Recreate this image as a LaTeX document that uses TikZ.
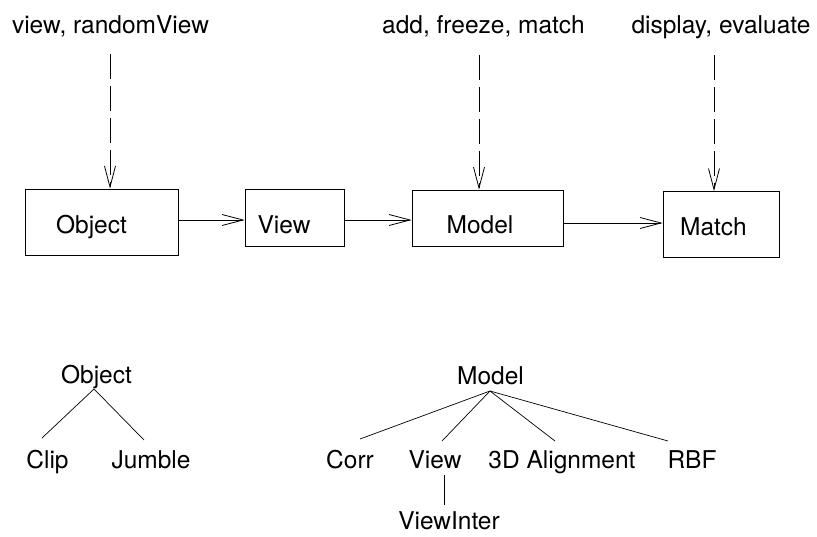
\documentclass[tikz,border=0pt]{standalone}
\usepackage{fontspec}
\setmainfont{TeX Gyre Heros}
\usetikzlibrary{arrows.meta}
\tikzset{
  lbl/.style={inner sep=0pt, anchor=base, font=\fontsize{24.5}{29}\selectfont},
  classbox/.style={draw, line width=0.8pt, inner sep=0pt, minimum width=#1},
  flow/.style={line width=0.8pt, -{Straight Barb[length=21pt,width=11pt,line width=0.8pt]}},
  call/.style={flow, dash pattern=on 25pt off 7pt},
  branch/.style={line width=0.7pt}
}
\begin{document}
\begin{tikzpicture}[x=1pt, y=-1pt]
  \useasboundingbox (0,0) rectangle (817,536);

  % operation labels
  \node[lbl] (opsObj)   at (110.5,33) {view, randomView};
  \node[lbl] (opsModel) at (483.5,33) {add, freeze, match};
  \node[lbl] (opsMatch) at (721,33)   {display, evaluate};

  % class boxes
  \node[classbox=153pt, minimum height=66pt] (objBox)   at (101.5,222)   {};
  \node[classbox=99pt,  minimum height=57pt] (viewBox)  at (294.5,217.5) {};
  \node[classbox=151pt, minimum height=56pt] (modelBox) at (487.5,218)   {};
  \node[classbox=116pt, minimum height=66pt] (matchBox) at (721,224.5)   {};

  \node[lbl] (objName)   at (91.5,233)  {Object};
  \node[lbl] (viewName)  at (284,233)   {View};
  \node[lbl] (modelName) at (480,233)   {Model};
  \node[lbl] (matchName) at (713.5,235) {Match};

  % dashed call arrows
  \coordinate (d1) at (110,54);
  \coordinate (d2) at (479,55);
  \coordinate (d3) at (714,55);
  \draw[call] (d1) -- (d1 |- objBox.north);
  \draw[call] (d2) -- (d2 |- modelBox.north);
  \draw[call] (d3) -- (d3 |- matchBox.north);

  % data flow arrows
  \coordinate (r1) at (0,220);
  \coordinate (r2) at (0,223);
  \draw[flow] (objBox.east |- r1)   -- (viewBox.west |- r1);
  \draw[flow] (viewBox.east |- r1)  -- (modelBox.west |- r1);
  \draw[flow] (modelBox.east |- r2) -- (matchBox.west |- r2);

  % Object hierarchy
  \node[lbl] (objRoot) at (96.5,383) {Object};
  \node[lbl] (clip)    at (47.5,468) {Clip};
  \node[lbl] (jumble)  at (151,468)  {Jumble};
  \coordinate (objJ) at (94,389);
  \coordinate (clipTop) at (42,438);
  \coordinate (jumbleTop) at (144,440);
  \draw[branch] (objJ) -- (clipTop);
  \draw[branch] (objJ) -- (jumbleTop);

  % Model hierarchy
  \node[lbl] (modelRoot) at (490.5,384) {Model};
  \node[lbl] (corr)      at (350,468)   {Corr};
  \node[lbl] (viewSub)   at (435,468)   {View};
  \node[lbl] (align)     at (562,468)   {3D Alignment};
  \node[lbl] (rbf)       at (692,468)   {RBF};
  \node[lbl] (viewInter) at (449,529)   {ViewInter};
  \coordinate (modelJ) at (490,391);
  \coordinate (corrTop)  at (360,439);
  \coordinate (viewTop)  at (442,441);
  \coordinate (alignTop) at (555,441);
  \coordinate (rbfTop)   at (668,441);
  \draw[branch] (modelJ) -- (corrTop);
  \draw[branch] (modelJ) -- (viewTop);
  \draw[branch] (modelJ) -- (alignTop);
  \draw[branch] (modelJ) -- (rbfTop);
  \coordinate (viBottom) at (444,475);
  \coordinate (viTop)    at (444,505);
  \draw[branch] (viBottom) -- (viTop);
\end{tikzpicture}
\end{document}
